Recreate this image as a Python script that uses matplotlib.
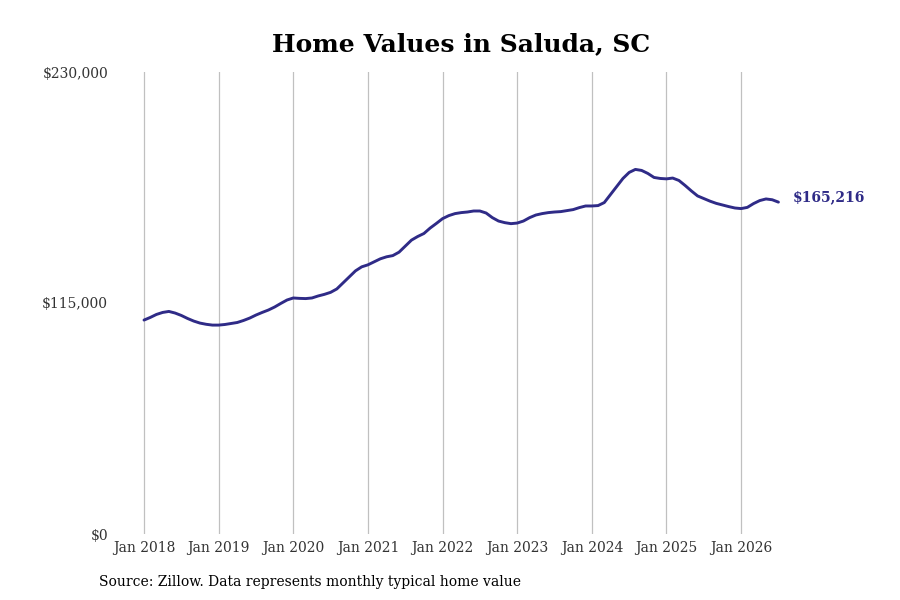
import matplotlib
matplotlib.use("Agg")
import matplotlib.pyplot as plt
import numpy as np

plt.rcParams['font.family'] = ['DejaVu Serif']

# monthly typical home value, Jan 2018 .. Jul 2026 (thousands of dollars)
values_2018 = [106.5, 107.8, 109.3, 110.3, 110.8, 110.0, 108.8, 107.3, 106.0, 105.0, 104.4, 104.0]
values_2019 = [104.0, 104.3, 104.8, 105.3, 106.3, 107.5, 109.0, 110.3, 111.5, 113.0, 114.8, 116.5]
values_2020 = [117.5, 117.3, 117.2, 117.5, 118.5, 119.3, 120.3, 122.0, 125.0, 128.0, 131.0, 133.0]
values_2021 = [134.0, 135.5, 137.0, 138.0, 138.6, 140.3, 143.3, 146.3, 148.1, 149.6, 152.3, 154.6]
values_2022 = [157.0, 158.5, 159.5, 160.0, 160.3, 160.8, 160.8, 159.8, 157.5, 155.8, 155.0, 154.5]
values_2023 = [154.8, 155.8, 157.5, 158.8, 159.5, 160.0, 160.3, 160.5, 161.0, 161.5, 162.5, 163.3]
values_2024 = [163.3, 163.5, 165.0, 169.0, 173.0, 177.0, 180.0, 181.5, 181.0, 179.5, 177.5, 177.0]
values_2025 = [176.8, 177.2, 176.0, 173.5, 170.8, 168.3, 167.0, 165.7, 164.6, 163.8, 163.0, 162.3]
values_2026 = [162.0, 162.6, 164.5, 166.0, 166.8, 166.4, 165.216]

tick_labels = ["Jan 2018", "Jan 2019", "Jan 2020", "Jan 2021", "Jan 2022",
               "Jan 2023", "Jan 2024", "Jan 2025", "Jan 2026"]
y_ticks = [0, 115000, 230000]
y_labels = ["$0", "$115,000", "$230,000"]
last_label = "$165,216"

values = np.array(values_2018 + values_2019 + values_2020 + values_2021 + values_2022
                  + values_2023 + values_2024 + values_2025 + values_2026) * 1000
months = np.arange(len(values))

line_color = "#2f2b87"

fig = plt.figure(figsize=(9, 6), dpi=100)
ax = fig.add_axes([115 / 900, 66 / 600, 745 / 900, 462 / 600])

ax.plot(months, values, color=line_color, lw=2.1, solid_capstyle='round')
ax.text(months[-1] + 2.3, values[-1] + 2500, last_label, color=line_color,
        fontsize=10, fontweight='bold', va='center', ha='left')

ax.set_xlim(-29 / 6.22, (860 - 144) / 6.22)
ax.set_ylim(0, 230000)
ax.set_xticks(np.arange(0, 12 * len(tick_labels), 12))
ax.set_xticklabels(tick_labels)
ax.set_yticks(y_ticks)
ax.set_yticklabels(y_labels)
ax.tick_params(length=0, labelsize=10, labelcolor="#333333")
ax.tick_params(axis='x', pad=5)
ax.tick_params(axis='y', pad=5)
for lbl in ax.get_yticklabels():
    lbl.set_verticalalignment('center_baseline')
ax.grid(axis='x', color="#c0c0c0", lw=0.9)
ax.grid(axis='y', visible=False)
for s in ax.spines.values():
    s.set_visible(False)

fig.text(461 / 900, 1 - 44 / 600, "Home Values in Saluda, SC", ha='center', va='center',
         fontsize=18, fontweight='bold')
fig.text(99 / 900, 1 - 582 / 600, "Source: Zillow. Data represents monthly typical home value",
         ha='left', va='center', fontsize=10)

fig.savefig("out.png", dpi=100)
